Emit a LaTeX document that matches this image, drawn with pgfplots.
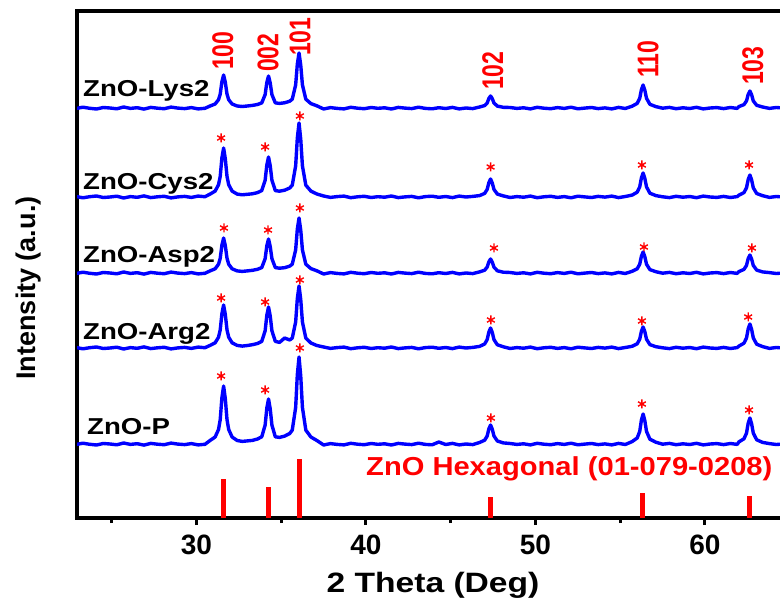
\documentclass[border=0pt]{standalone}
\usepackage{pgfplots}
\pgfplotsset{compat=1.18}
\usepackage{pgfplotstable}
\usepackage{fontspec}
\setmainfont{Liberation Sans}

\pgfplotstableread{
x lys cys asp arg p
22.9 409.5 321.5 244.5 170.5 73.5
23.3 410.8 320.2 245.8 169.2 74.8
23.7 409.7 321.3 244.7 170.3 73.7
24.1 409 322 244 171 73
24.5 410.5 320.5 245.5 169.5 74.5
24.9 410 321 245 170 74
25.3 409.2 321.8 244.2 170.8 73.2
25.7 411 320 246 169 75
26.1 409.6 321.4 244.6 170.4 73.6
26.5 410.3 320.7 245.3 169.7 74.3
26.9 408.9 322.1 243.9 171.1 72.9
27.3 410.6 320.4 245.6 169.4 74.6
27.7 409.8 321.2 244.8 170.2 73.8
28.1 409.3 321.7 244.3 170.7 73.3
28.5 410.9 320.1 245.9 169.1 74.9
28.9 409.9 321.1 244.9 170.1 73.9
29.3 409.4 321.6 244.4 170.6 73.4
29.7 410.4 320.6 245.4 169.6 74.4
30.1 409.1 321.9 244.1 170.9 73.1
30.5 409.7 321.3 244.7 170.3 73.7
30.8 412 323.9 247.1 172.6 77.5
31.1 414 326.9 249.2 175.2 81
31.3 418.3 333.3 253.8 180.8 88.5
31.4 423.9 341.6 259.7 188.1 98.4
31.5 436.4 360.2 273 204.4 120.4
31.6 443 370 280 213 132
31.7 435.7 359.2 272.3 203.5 119.2
31.8 423.9 341.6 259.7 188.1 98.4
31.9 418.3 333.3 253.8 180.8 88.5
32.1 414 326.9 249.2 175.2 81
32.4 412 323.9 247.1 172.6 77.5
32.7 411.5 323.2 246.6 171.9 76.6
33.0 412 323.7 247.1 172.5 77.1
33.3 412.6 324.2 247.7 173.3 77.6
33.6 413.5 325.4 248.7 174.5 79
33.85 415.1 327.4 250.4 176.6 81.2
34.05 423.4 337.8 259.3 187.2 92.9
34.15 435.6 353 272.2 202.8 110
34.25 442 361 279 211 119
34.35 435 352.2 271.5 202 109.1
34.45 423.4 337.8 259.3 187.2 92.9
34.65 415.1 327.4 250.4 176.6 81.2
34.9 414.6 326.8 249.8 175.6 80.6
35.2 415.2 327.8 250.3 180 81.9
35.5 416.8 330 251.9 178 84.5
35.65 418.8 332.8 253.8 179.9 87.9
35.85 433.1 352.1 268.1 196 110.5
35.95 454 380.2 289 219.6 143.6
36.05 465 395 300 232 161
36.15 452.9 378.7 287.9 218.4 141.9
36.25 433.1 352.1 268.1 196 110.5
36.45 418.8 332.8 253.8 179.9 87.9
36.75 414.4 326.9 249.4 175 81
37.1 412.2 324 247.2 172.5 77.5
37.5 409 322 244 171 73
37.9 410.4 320.6 245.4 169.6 74.4
38.3 409.6 321.4 244.6 170.4 73.6
38.7 409.1 321.9 244.1 170.9 73.1
39.1 410.7 320.3 245.7 169.3 74.7
39.5 409.8 321.2 244.8 170.2 73.8
39.9 409.3 321.7 244.3 170.7 73.3
40.3 410.5 320.5 245.5 169.5 74.5
40.7 409.7 321.3 244.7 170.3 73.7
41.1 410.2 320.8 245.2 169.8 74.2
41.5 409 322 244 171 73
41.9 410.6 320.4 245.6 169.4 74.6
42.3 409.9 321.1 244.9 170.1 73.9
42.7 409.4 321.6 244.4 170.6 73.4
43.1 410.8 320.2 245.8 169.2 74.8
43.5 409.6 321.4 244.6 170.4 73.6
43.9 409.2 321.8 244.2 170.8 73.2
44.3 410.3 320.7 245.3 169.7 76
44.7 409.5 321.5 244.5 170.5 73.5
45.1 410.6 320.4 245.6 169.4 74.6
45.5 409.1 321.9 244.1 170.9 73.1
45.9 410 321 245 170 74
46.3 409.4 321.6 244.4 170.6 73.4
46.7 411 322.4 246.1 171.6 75.5
47.0 412.4 324.6 247.8 174 77.8
47.15 415 328.6 250.9 178.4 82
47.25 419.6 335.4 256.2 186 89.2
47.35 422 339 259 190 93
47.45 419.4 335 255.9 185.6 88.8
47.55 415 328.6 250.9 178.4 82
47.75 411.9 323.9 247.2 173.2 77
48.1 410.7 322.1 245.8 171.2 75.1
48.5 410.5 320.5 245.5 169.5 74.5
48.9 409.6 321.4 244.6 170.4 73.6
49.3 410.2 320.8 245.2 169.8 74.2
49.7 409.1 321.9 244.1 170.9 73.1
50.1 410.7 320.3 245.7 169.3 74.7
50.5 409.8 321.2 244.8 170.2 73.8
50.9 409.3 321.7 244.3 170.7 73.3
51.3 410.4 320.6 245.4 169.6 74.4
51.7 409.6 321.4 244.6 170.4 73.6
52.1 410.8 320.2 245.8 169.2 74.8
52.5 409.2 321.8 244.2 170.8 73.2
52.9 409.9 321.1 244.9 170.1 73.9
53.3 410.5 320.5 245.5 169.5 74.5
53.7 409.4 321.6 244.4 170.6 73.4
54.1 410.1 320.9 245.1 169.9 74.1
54.5 409.1 321.9 244.1 170.9 73.1
54.9 410.6 320.4 245.6 169.4 74.6
55.3 409.5 321.5 244.5 170.5 73.5
55.7 411.8 322.9 246.7 171.7 76.4
56.0 414.6 325.8 249.2 174.2 80
56.15 419.7 331.1 253.8 178.8 86.6
56.25 428.4 340.2 261.8 186.8 98
56.35 433 345 266 191 104
56.45 427.9 339.7 261.4 186.4 97.4
56.55 419.7 331.1 253.8 178.8 86.6
56.75 413.7 324.8 248.4 173.4 78.8
57.1 411.4 322.4 246.3 171.3 75.8
57.5 409.8 321.2 244.8 170.2 73.8
57.9 410.6 320.4 245.6 169.4 74.6
58.3 409.3 321.7 244.3 170.7 73.3
58.7 410.2 320.8 245.2 169.8 74.2
59.1 409.5 321.5 244.5 170.5 73.5
59.5 410.7 320.3 245.7 169.3 74.7
59.9 409.1 321.9 244.1 170.9 73.1
60.3 410 321 245 170 74
60.7 410.4 320.6 245.4 169.6 74.4
61.1 409.4 321.6 244.4 170.6 73.4
61.5 410.5 320.5 245.5 169.5 74.5
61.9 409.6 321.4 244.6 170.4 73.6
62.0 411.4 322.8 246.4 171.9 76.1
62.3 413.4 325.4 248.6 174.8 79.2
62.45 417.1 330.2 252.6 180.1 84.9
62.55 423.6 338.6 259.4 189.2 94.8
62.65 427 343 263 194 100
62.75 423.3 338.2 259 188.7 94.3
62.85 417.1 330.2 252.6 180.1 84.9
63.05 412.7 324.5 247.9 173.8 78.2
63.4 411 322.3 246.1 171.4 75.6
63.8 409.6 320.6 245.4 169.6 74.4
64.2 410.5 321.5 244.5 170.5 73.5
64.6 410 321 245 170 74
}\xrd

\pgfplotstableread{
x h
31.6 39
34.25 31
36.05 59
47.35 21
56.3 25
62.65 22
}\refbars

\pgfplotstableread{
x y
31.45 380
34.05 371
36.1 402
47.35 351
56.28 353
62.6 353
31.62 290
34.22 288
36.1 310
47.55 270
56.4 271
62.77 270
31.45 220
34.05 216
36.1 238
47.37 198
56.28 197
62.55 201
31.45 142
34.05 128
36.1 170
47.37 100
56.28 114
62.6 108
}\stars

\newcommand{\fs}[1]{\fontsize{#1}{#1}\selectfont\bfseries}

\begin{document}
\begin{tikzpicture}
\begin{axis}[
  at={(77pt,80pt)}, anchor=south west,
  scale only axis, width=709pt, height=507pt,
  xmin=22.95, xmax=64.78, ymin=0, ymax=507,
  axis line style={line width=4.5pt},
  xtick={30,40,50,60}, minor xtick={25,35,45,55},
  ytick=\empty,
  tick align=outside, xtick pos=left,
  major tick length=7pt, minor tick length=5pt,
  every tick/.append style={black, line width=3pt},
  /pgf/number format/assume math mode=true,
  xticklabel style={font=\fs{28}, inner sep=0pt, anchor=north, yshift=-10pt},
]
\addplot[blue, line width=3.4pt, line join=round] table[x=x,y=lys]{\xrd};
\addplot[blue, line width=3.4pt, line join=round] table[x=x,y=cys]{\xrd};
\addplot[blue, line width=3.4pt, line join=round] table[x=x,y=asp]{\xrd};
\addplot[blue, line width=3.4pt, line join=round] table[x=x,y=arg]{\xrd};
\addplot[blue, line width=3.4pt, line join=round] table[x=x,y=p]{\xrd};
\addplot[red, ycomb, line width=5pt, no marks] table[x=x,y=h]{\refbars};
\addplot[red, only marks, mark=asterisk, mark size=4.5pt, mark options={line width=1.4pt}] table[x=x,y=y]{\stars};

\node[anchor=base west, inner sep=0pt, font=\fs{23}, xscale=1.2] at (axis cs:23.3,421) {ZnO-Lys2};
\node[anchor=base west, inner sep=0pt, font=\fs{23}, xscale=1.2] at (axis cs:23.3,328) {ZnO-Cys2};
\node[anchor=base west, inner sep=0pt, font=\fs{23}, xscale=1.2] at (axis cs:23.3,255) {ZnO-Asp2};
\node[anchor=base west, inner sep=0pt, font=\fs{23}, xscale=1.2] at (axis cs:23.3,178) {ZnO-Arg2};
\node[anchor=base west, inner sep=0pt, font=\fs{23}, xscale=1.2] at (axis cs:23.54,83) {ZnO-P};

\node[anchor=west, inner sep=0pt, text=red, font=\fs{23}, rotate=90, yscale=1.3] at (axis cs:31.56,448) {100};
\node[anchor=west, inner sep=0pt, text=red, font=\fs{23}, rotate=90, yscale=1.3] at (axis cs:34.22,446) {002};
\node[anchor=west, inner sep=0pt, text=red, font=\fs{23}, rotate=90, yscale=1.3] at (axis cs:36.11,462) {101};
\node[anchor=west, inner sep=0pt, text=red, font=\fs{23}, rotate=90, yscale=1.3] at (axis cs:47.49,428) {102};
\node[anchor=west, inner sep=0pt, text=red, font=\fs{23}, rotate=90, yscale=1.3] at (axis cs:56.64,440) {110};
\node[anchor=west, inner sep=0pt, text=red, font=\fs{23}, rotate=90, yscale=1.3] at (axis cs:62.83,433) {103};

\node[anchor=base west, inner sep=0pt, text=red, font=\fs{26}, xscale=1.12] at (axis cs:40.0,43) {ZnO Hexagonal (01-079-0208)};
\end{axis}
\node[rotate=90, inner sep=0pt, font=\fs{27}] at (29pt,310pt) {Intensity (a.u.)};
\node[anchor=base, inner sep=0pt, font=\fs{28}, xscale=1.2] at (433pt,6pt) {2 Theta (Deg)};
\pgfresetboundingbox
\useasboundingbox (0,0) rectangle (780pt,598pt);
\end{tikzpicture}
\end{document}
